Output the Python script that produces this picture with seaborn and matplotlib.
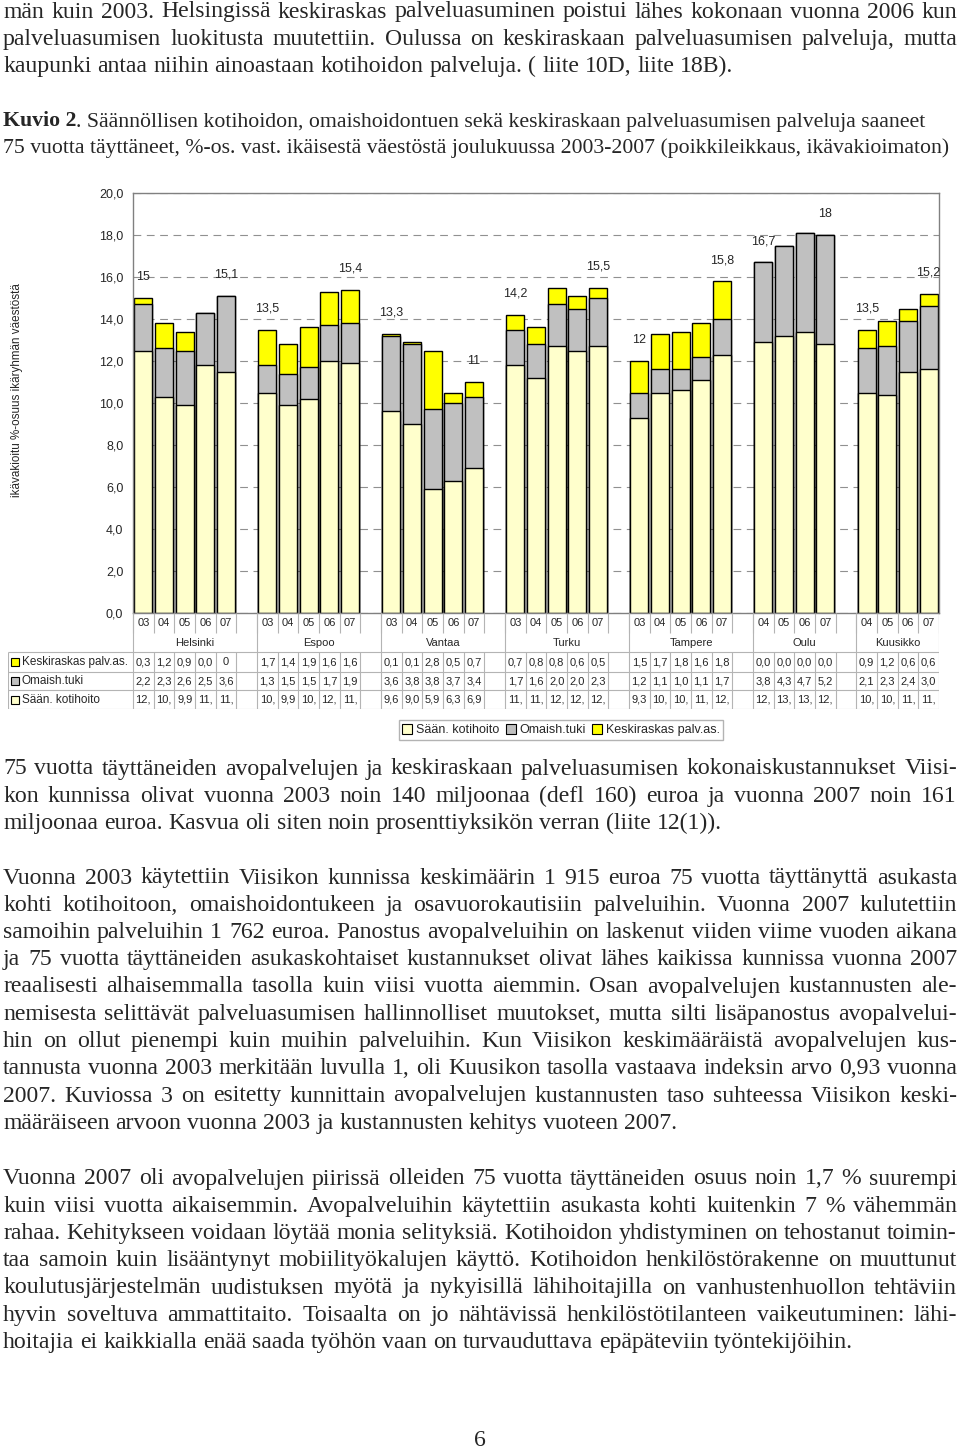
import matplotlib
matplotlib.use("Agg")
import numpy as np
import pandas as pd
import seaborn as sns
import matplotlib.pyplot as plt
from matplotlib.patches import Patch, Rectangle

cities = ["Helsinki", "Espoo", "Vantaa", "Turku", "Tampere", "Oulu", "Kuusikko"]
city_years = [["03", "04", "05", "06", "07"]] * 5 + [["04", "05", "06", "07"]] * 2

kotihoito = [12.5, 10.3, 9.9, 11.8, 11.5,
             10.5, 9.9, 10.2, 12.0, 11.9,
             9.6, 9.0, 5.9, 6.3, 6.9,
             11.8, 11.2, 12.7, 12.5, 12.7,
             9.3, 10.5, 10.6, 11.1, 12.3,
             12.9, 13.2, 13.4, 12.8,
             10.5, 10.4, 11.5, 11.6]
omaish = [2.2, 2.3, 2.6, 2.5, 3.6,
          1.3, 1.5, 1.5, 1.7, 1.9,
          3.6, 3.8, 3.8, 3.7, 3.4,
          1.7, 1.6, 2.0, 2.0, 2.3,
          1.2, 1.1, 1.0, 1.1, 1.7,
          3.8, 4.3, 4.7, 5.2,
          2.1, 2.3, 2.4, 3.0]
# the int 0 is printed as "0" in the data table (Excel shows it that way)
keskiraskas = [0.3, 1.2, 0.9, 0.0, 0,
               1.7, 1.4, 1.9, 1.6, 1.6,
               0.1, 0.1, 2.8, 0.5, 0.7,
               0.7, 0.8, 0.8, 0.6, 0.5,
               1.5, 1.7, 1.8, 1.6, 1.8,
               0.0, 0.0, 0.0, 0.0,
               0.9, 1.2, 0.6, 0.6]

series_names = ["Sään. kotihoito", "Omaish.tuki", "Keskiraskas palv.as."]
series_colors = ["#FFFFCC", "#C0C0C0", "#FFFF00"]

W, H = 960, 1451
SERIF = "Liberation Serif"
SANS = "Liberation Sans"
BODY_FS = 17.1
CAPTION_FS = 15.7
PITCH = 27.25
BASE_OFF = 6.5  # px from visual line centre down to the baseline


def fx(px):
    return px / W


def fy(py):
    return 1 - py / H


def fmt(v):
    if isinstance(v, int):
        return str(v)
    return f"{v:.1f}".replace(".", ",")


def fmt_total(v):
    return f"{round(v, 1):g}".replace(".", ",")


# Build category order with an empty slot between the cities
order, bar_keys, bar_city = [], [], []
group_start = []
for c, yrs in zip(cities, city_years):
    group_start.append(len(order))
    for y in yrs:
        order.append(f"{c} {y}")
        bar_keys.append(f"{c} {y}")
        bar_city.append(c)
    if c != cities[-1]:
        order.append(f"gap {c}")
group_start.append(len(order))

df = pd.DataFrame({"slot": bar_keys, "city": bar_city,
                   "kot": kotihoito, "oma": omaish,
                   "kesk": [float(v) for v in keskiraskas]})
df["mid"] = df["kot"] + df["oma"]
df["total"] = df["mid"] + df["kesk"]
df["pos"] = [order.index(k) for k in df["slot"]]

sns.set_style("white")
plt.rcParams["font.family"] = [SANS, "DejaVu Sans"]

fig = plt.figure(figsize=(9.6, 14.51), dpi=100)
renderer = fig.canvas.get_renderer()

# ---- chart ----
ax = fig.add_axes([fx(133), fy(613), fx(939) - fx(133), fy(193) - fy(613)])
for col, color in zip(["total", "mid", "kot"], series_colors[::-1]):
    sns.barplot(data=df, x="slot", y=col, order=order, color=color, saturation=1,
                edgecolor="black", linewidth=1.0, width=0.88, errorbar=None, ax=ax)

ax.set_xlim(-0.5, len(order) - 0.5)
ax.set_ylim(0, 20)
ax.set_yticks(np.arange(0, 21, 2))
ax.set_yticklabels([f"{v:.1f}".replace(".", ",") for v in np.arange(0, 21, 2)], fontsize=9)
ax.tick_params(axis="y", length=3, color="#808080", pad=4)
ax.tick_params(axis="x", bottom=False, labelbottom=False)
ax.set_xlabel("")
ax.set_ylabel("")
ax.set_axisbelow(True)
ax.yaxis.grid(True, color="#909090", linewidth=0.8, dashes=(7, 5))
for s in ax.spines.values():
    s.set_visible(True)
    s.set_color("#808080")
    s.set_linewidth(1.0)

# totals above the first and last bar of each city
for c in cities:
    sub = df[df["city"] == c]
    for idx in [sub.index[0], sub.index[-1]]:
        ax.text(df.loc[idx, "pos"], df.loc[idx, "total"] + 1.0, fmt_total(df.loc[idx, "total"]),
                ha="center", va="center", fontsize=9)

fig.text(fx(17), fy(390), "ikävakioitu %-osuus ikäryhmän väestöstä", rotation=90,
         ha="center", va="center", fontsize=8.4)

# ---- data table under the chart ----
slot_px = (939 - 133) / len(order)
tab = fig.add_axes([fx(8), fy(709), fx(939) - fx(8), fy(613) - fy(709)])
tab.set_xlim(-0.5 - (133 - 8) / slot_px, len(order) - 0.5)
tab.set_ylim(709, 613)
tab.axis("off")

line_c = "#b4b4b4"
bounds = np.arange(-0.5, len(order), 1)
tab.vlines(bounds, 613, 633, color=line_c, lw=0.8)
tab.vlines(bounds, 652, 709, color=line_c, lw=0.8)
tab.vlines([g - 0.5 for g in group_start], 613, 652, color=line_c, lw=0.8)
x_left = -0.5 - (133 - 8) / slot_px
tab.vlines([x_left], 652, 709, color=line_c, lw=0.8)
tab.hlines([652, 672, 690, 709], x_left, len(order) - 0.5, color=line_c, lw=0.8)

for i, row in df.iterrows():
    tab.text(row["pos"], 623, row["slot"].split()[-1], ha="center", va="center", fontsize=8)
for c, a, b in zip(cities, group_start[:-1], group_start[1:]):
    tab.text((a + b - 1) / 2, 643, c, ha="center", va="center", fontsize=8)

table_rows = [(662, keskiraskas, lambda v: fmt(v)),
              (681, omaish, lambda v: fmt(v)),
              (700, kotihoito, lambda v: fmt(v)[:3])]
for y, vals, f in table_rows:
    for p, v in zip(df["pos"], vals):
        tab.text(p, y, f(v), ha="center", va="center", fontsize=8)

for y, name, color in zip([662, 681, 700], series_names[::-1], series_colors[::-1]):
    fig.add_artist(Rectangle((fx(11), fy(y + 4)), 8 / W, 8 / H, transform=fig.transFigure,
                             facecolor=color, edgecolor="black", lw=0.8))
    fig.text(fx(22), fy(y), name, ha="left", va="center", fontsize=8.5)

handles = [Patch(facecolor=c, edgecolor="black", lw=0.8) for c in series_colors]
fig.legend(handles, series_names, loc="center", bbox_to_anchor=(fx(561), fy(730)), ncol=3,
           fontsize=9, frameon=True, fancybox=False, edgecolor="#a0a0a0",
           handlelength=0.8, handleheight=0.8, handletextpad=0.3, columnspacing=0.5,
           borderpad=0.3, borderaxespad=0)

# ---- page text ----
SPACE = 0.25 * BODY_FS * 100 / 72


def text_line(y, line, justify=True, x0=3, x1=957):
    words = line.split()
    arts = [fig.text(0, fy(y + BASE_OFF), w, fontsize=BODY_FS, family=SERIF,
                     ha="left", va="baseline")
            for w in words]
    widths = [a.get_window_extent(renderer=renderer).width for a in arts]
    gap = (x1 - x0 - sum(widths)) / (len(words) - 1) if justify and len(words) > 1 else SPACE
    x = x0
    for a, w in zip(arts, widths):
        a.set_x(fx(x))
        x += w + gap


def paragraph(y0, lines):
    for k, line in enumerate(lines):
        text_line(y0 + k * PITCH, line, justify=(k < len(lines) - 1))


paragraph(11, [
    "män kuin 2003. Helsingissä keskiraskas palveluasuminen poistui lähes kokonaan vuonna 2006 kun",
    "palveluasumisen luokitusta muutettiin.   Oulussa on keskiraskaan palveluasumisen palveluja, mutta",
    "kaupunki antaa niihin ainoastaan kotihoidon palveluja. ( liite 10D, liite 18B).",
])

# caption (smaller than the body text)
cap = fig.text(fx(3), fy(120 + BASE_OFF), "Kuvio 2", fontsize=CAPTION_FS, family=SERIF,
               weight="bold", ha="left", va="baseline")
cap_w = cap.get_window_extent(renderer=renderer).width
fig.text(fx(3 + cap_w), fy(120 + BASE_OFF),
         ". Säännöllisen kotihoidon, omaishoidontuen sekä keskiraskaan palveluasumisen palveluja saaneet",
         fontsize=CAPTION_FS, family=SERIF, ha="left", va="baseline")
fig.text(fx(3), fy(146 + BASE_OFF),
         "75 vuotta täyttäneet, %-os. vast. ikäisestä väestöstä joulukuussa 2003-2007 (poikkileikkaus, ikävakioimaton)",
         fontsize=CAPTION_FS, family=SERIF, ha="left", va="baseline")

paragraph(768, [
    "75 vuotta täyttäneiden avopalvelujen ja keskiraskaan palveluasumisen kokonaiskustannukset Viisi-",
    "kon kunnissa olivat vuonna 2003 noin 140 miljoonaa (defl 160)  euroa ja vuonna 2007 noin 161",
    "miljoonaa euroa. Kasvua oli siten noin prosenttiyksikön verran (liite 12(1)).",
])

paragraph(877, [
    "Vuonna 2003 käytettiin Viisikon kunnissa keskimäärin 1 915 euroa 75 vuotta täyttänyttä asukasta",
    "kohti kotihoitoon, omaishoidontukeen ja osavuorokautisiin palveluihin. Vuonna 2007 kulutettiin",
    "samoihin palveluihin 1 762 euroa. Panostus avopalveluihin on  laskenut viiden viime vuoden aikana",
    "ja  75 vuotta täyttäneiden asukaskohtaiset kustannukset olivat lähes kaikissa kunnissa vuonna 2007",
    "reaalisesti alhaisemmalla tasolla kuin viisi vuotta aiemmin.  Osan avopalvelujen kustannusten ale-",
    "nemisesta selittävät palveluasumisen hallinnolliset muutokset, mutta silti lisäpanostus avopalvelui-",
    "hin on ollut pienempi kuin muihin palveluihin.   Kun Viisikon keskimääräistä avopalvelujen kus-",
    "tannusta vuonna 2003 merkitään luvulla 1, oli Kuusikon tasolla vastaava indeksin arvo 0,93 vuonna",
    "2007. Kuviossa 3 on esitetty kunnittain avopalvelujen kustannusten taso suhteessa Viisikon keski-",
    "määräiseen arvoon vuonna 2003 ja kustannusten kehitys vuoteen 2007.",
])

paragraph(1178, [
    "Vuonna 2007 oli avopalvelujen piirissä olleiden 75 vuotta täyttäneiden osuus noin 1,7 % suurempi",
    "kuin viisi vuotta aikaisemmin. Avopalveluihin käytettiin asukasta kohti kuitenkin 7 % vähemmän",
    "rahaa. Kehitykseen voidaan löytää monia selityksiä. Kotihoidon yhdistyminen on tehostanut toimin-",
    "taa samoin kuin lisääntynyt mobiilityökalujen käyttö. Kotihoidon henkilöstörakenne on muuttunut",
    "koulutusjärjestelmän uudistuksen myötä ja nykyisillä lähihoitajilla on vanhustenhuollon tehtäviin",
    "hyvin soveltuva ammattitaito. Toisaalta on jo nähtävissä henkilöstötilanteen vaikeutuminen: lähi-",
    "hoitajia ei kaikkialla enää saada työhön vaan on turvauduttava epäpäteviin työntekijöihin.",
])

fig.text(fx(480), fy(1440), "6", fontsize=BODY_FS, family=SERIF, ha="center", va="center")

fig.savefig("out.png", dpi=100)
